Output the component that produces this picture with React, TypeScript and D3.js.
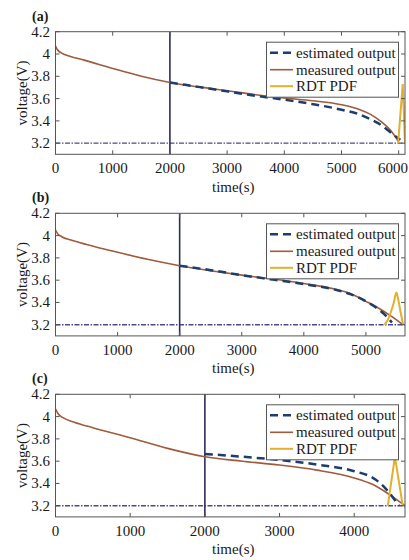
import * as d3 from "d3";
import React from "react";

// voltage traces, [time (s), voltage (V)]
const measuredA: [number, number][] = [
  [0, 4.07], [30, 4.04], [100, 4.01], [250, 3.98], [500, 3.945], [1000, 3.87],
  [1500, 3.8], [2000, 3.745], [2500, 3.705], [3000, 3.67], [3500, 3.635],
  [4000, 3.605], [4500, 3.58], [5000, 3.545], [5300, 3.505], [5500, 3.46],
  [5700, 3.39], [5850, 3.32], [6000, 3.21],
];
const estimatedA: [number, number][] = [
  [2000, 3.745], [2500, 3.705], [3000, 3.665], [3500, 3.625], [4000, 3.59],
  [4500, 3.55], [5000, 3.5], [5300, 3.46], [5500, 3.415], [5700, 3.36],
  [5850, 3.3], [6000, 3.24], [6030, 3.23],
];
const rdtA: [number, number][] = [[5990, 3.2], [6070, 3.73], [6110, 3.2]];

const measuredB: [number, number][] = [
  [0, 4.05], [30, 4.02], [100, 3.99], [250, 3.96], [500, 3.92], [1000, 3.85],
  [1500, 3.785], [2000, 3.73], [2500, 3.685], [3000, 3.645], [3500, 3.61],
  [4000, 3.57], [4500, 3.52], [4750, 3.48], [5000, 3.41], [5200, 3.35],
  [5400, 3.28], [5600, 3.2],
];
const estimatedB: [number, number][] = [
  [2000, 3.73], [2500, 3.69], [3000, 3.645], [3500, 3.605], [4000, 3.565],
  [4500, 3.515], [4750, 3.475], [5000, 3.41], [5200, 3.34], [5350, 3.265],
  [5420, 3.22],
];
const rdtB: [number, number][] = [
  [5300, 3.2], [5350, 3.24], [5400, 3.31], [5450, 3.4], [5490, 3.49],
  [5520, 3.43], [5560, 3.31], [5600, 3.2],
];

const measuredC: [number, number][] = [
  [0, 4.07], [30, 4.03], [100, 3.99], [250, 3.95], [500, 3.9], [1000, 3.81],
  [1500, 3.715], [2000, 3.64], [2500, 3.6], [3000, 3.565], [3500, 3.52],
  [4000, 3.45], [4250, 3.39], [4450, 3.31], [4600, 3.24], [4680, 3.2],
];
const estimatedC: [number, number][] = [
  [2000, 3.665], [2500, 3.64], [3000, 3.61], [3500, 3.57], [4000, 3.51],
  [4250, 3.45], [4400, 3.37], [4500, 3.29], [4600, 3.2],
];
const rdtC: [number, number][] = [[4450, 3.2], [4545, 3.64], [4650, 3.2]];

const panelLabels = ["(a)", "(b)", "(c)"];
const xMaxes = [6110, 5630, 4680];
const xTicksA = [0, 1000, 2000, 3000, 4000, 5000, 6000];
const xTicksB = [0, 1000, 2000, 3000, 4000, 5000];
const xTicksC = [0, 1000, 2000, 3000, 4000];
const yTicks = [3.2, 3.4, 3.6, 3.8, 4.0, 4.2];
const yDomain = [3.1, 4.2];
const startTime = 2000;
const cutoffVoltage = 3.2;
const legendLabels = ["estimated output", "measured output", "RDT PDF"];

const FONT = "'Liberation Serif', 'Times New Roman', serif";
const C_MEAS = "#a05a3c";
const C_EST = "#1d3d6c";
const C_RDT = "#e2b02e";
const C_VLINE = "#2c2c5e";
const C_HLINE = "#4a4a8e";
const C_AXIS = "#555";
const C_TEXT = "#1a1a1a";

const W = 409;
const left = 55.5;
const right = 405;
const tops = [31.7, 213.3, 394.3];
const plotH = 122.6;

const panels = [
  { label: panelLabels[0], xMax: xMaxes[0], xTicks: xTicksA, measured: measuredA, estimated: estimatedA, rdt: rdtA },
  { label: panelLabels[1], xMax: xMaxes[1], xTicks: xTicksB, measured: measuredB, estimated: estimatedB, rdt: rdtB },
  { label: panelLabels[2], xMax: xMaxes[2], xTicks: xTicksC, measured: measuredC, estimated: estimatedC, rdt: rdtC },
];

function Panel({ p, top }: { p: (typeof panels)[number]; top: number }) {
  const bottom = top + plotH;
  const x = d3.scaleLinear().domain([0, p.xMax]).range([left, right]);
  const y = d3.scaleLinear().domain(yDomain).range([bottom, top]);
  const line = d3
    .line<[number, number]>()
    .x((d) => x(d[0]))
    .y((d) => y(d[1]))
    .curve(d3.curveMonotoneX);
  const straight = d3
    .line<[number, number]>()
    .x((d) => x(d[0]))
    .y((d) => y(d[1]));
  const clipId = "clip" + p.label.replace(/\W/g, "");
  const lgTop = top + 10.5;
  const lgLeft = 266.5;
  const lgRight = 398.5;
  const rows = [lgTop + 10.5, lgTop + 27.5, lgTop + 44];
  const tickLen = 4;

  return (
    <g>
      <defs>
        <clipPath id={clipId}>
          <rect x={left} y={top} width={right - left} height={plotH} />
        </clipPath>
      </defs>
      <g clipPath={`url(#${clipId})`}>
        <line
          x1={left}
          x2={right}
          y1={y(cutoffVoltage)}
          y2={y(cutoffVoltage)}
          stroke={C_HLINE}
          strokeWidth={1.4}
          strokeDasharray="5,1.5,1.5,1.5"
        />
        <line x1={x(startTime)} x2={x(startTime)} y1={top} y2={bottom} stroke={C_VLINE} strokeWidth={1.6} />
        <path d={line(p.measured) ?? ""} fill="none" stroke={C_MEAS} strokeWidth={1.6} />
        <path d={line(p.estimated) ?? ""} fill="none" stroke={C_EST} strokeWidth={2.5} strokeDasharray="8,5" />
        <path d={(p.rdt.length > 3 ? line : straight)(p.rdt) ?? ""} fill="none" stroke={C_RDT} strokeWidth={2} />
      </g>
      {/* box + inward ticks */}
      <rect x={left} y={top} width={right - left} height={plotH} fill="none" stroke={C_AXIS} strokeWidth={1} />
      {p.xTicks.map((t) => {
        // keep the last label inside the page edge
        const overflow = x(t) + 15 > W;
        return (
          <g key={"x" + t}>
            <line x1={x(t)} x2={x(t)} y1={bottom} y2={bottom - tickLen} stroke={C_AXIS} />
            <line x1={x(t)} x2={x(t)} y1={top} y2={top + tickLen} stroke={C_AXIS} />
            <text
              x={overflow ? W - 1 : x(t)}
              y={bottom + 19}
              textAnchor={overflow ? "end" : "middle"}
              fontSize={15}
              fill={C_TEXT}
            >
              {t}
            </text>
          </g>
        );
      })}
      {yTicks.map((t) => (
        <g key={"y" + t}>
          <line x1={left} x2={left + tickLen} y1={y(t)} y2={y(t)} stroke={C_AXIS} />
          <line x1={right} x2={right - tickLen} y1={y(t)} y2={y(t)} stroke={C_AXIS} />
          <text x={50} y={y(t) + 5} textAnchor="end" fontSize={15} fill={C_TEXT}>
            {d3.format("~g")(t)}
          </text>
        </g>
      ))}
      <text x={(left + right) / 2 + 3} y={bottom + 37.5} textAnchor="middle" fontSize={15} fill={C_TEXT}>
        time(s)
      </text>
      <text
        transform={`translate(27,${top + plotH / 2}) rotate(-90)`}
        textAnchor="middle"
        fontSize={15}
        fill={C_TEXT}
      >
        voltage(V)
      </text>
      <text x={32} y={top - 11} fontSize={14} fontWeight="bold" fill={C_TEXT}>
        {p.label}
      </text>
      {/* legend */}
      <rect x={lgLeft} y={lgTop} width={lgRight - lgLeft} height={55} fill="#fff" stroke={C_AXIS} strokeWidth={1} />
      <line x1={270} x2={293} y1={rows[0]} y2={rows[0]} stroke={C_EST} strokeWidth={2.5} strokeDasharray="8,5" />
      <line x1={270} x2={293} y1={rows[1]} y2={rows[1]} stroke={C_MEAS} strokeWidth={1.6} />
      <line x1={270} x2={293} y1={rows[2]} y2={rows[2]} stroke={C_RDT} strokeWidth={2} />
      {legendLabels.map((l, i) => (
        <text key={l} x={296} y={rows[i] + 5} fontSize={15} fill={C_TEXT}>
          {l}
        </text>
      ))}
    </g>
  );
}

export default function App() {
  return (
    <svg
      width={W}
      height={560}
      style={{ position: "absolute", left: 0, top: 0, background: "#fff", fontFamily: FONT }}
    >
      <rect width={W} height={560} fill="#fff" />
      {panels.map((p, i) => (
        <Panel key={p.label} p={p} top={tops[i]} />
      ))}
    </svg>
  );
}
